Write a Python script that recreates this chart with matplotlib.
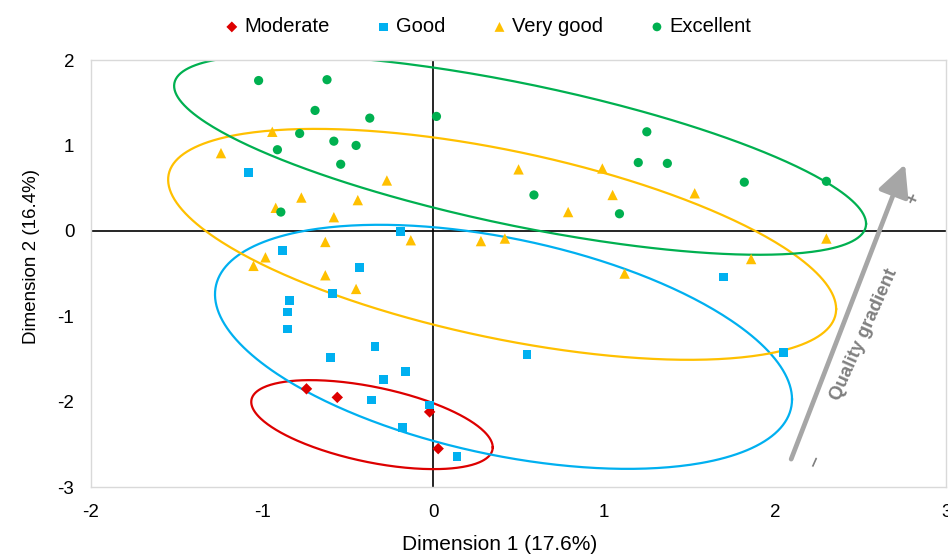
import numpy as np
import matplotlib
matplotlib.use('Agg')
import matplotlib.pyplot as plt

plt.rcParams['font.family'] = ['Liberation Sans', 'DejaVu Sans']
plt.rcParams['axes.unicode_minus'] = False

# group scores on the first two dimensions
groups = ['Moderate', 'Good', 'Very good', 'Excellent']
colors = ['#DD0000', '#00B0F0', '#FFC000', '#00B050']
markers = ['D', 's', '^', 'o']
msizes = [34, 40, 56, 44]

moderate_x = [-0.74, -0.56, -0.02, 0.03]
moderate_y = [-1.85, -1.95, -2.12, -2.55]

good_x = [-1.08, -0.19, -0.88, -0.43, -0.59, -0.84, -0.85, -0.85, -0.34, -0.60,
          -0.16, -0.29, -0.36, -0.02, -0.18, 0.14, 1.70, 2.05, 0.55]
good_y = [0.68, -0.01, -0.23, -0.43, -0.73, -0.82, -0.95, -1.15, -1.35, -1.48,
          -1.65, -1.74, -1.98, -2.04, -2.30, -2.64, -0.54, -1.42, -1.45]

vgood_x = [-1.24, -0.94, -0.27, -0.77, -0.44, -0.92, -0.58, -0.63, -0.13, 0.50,
           0.99, 1.05, 0.79, 1.53, 0.28, 0.42, 2.30, 1.86, 1.12, -0.98,
           -1.05, -0.63, -0.45]
vgood_y = [0.91, 1.16, 0.59, 0.39, 0.36, 0.27, 0.16, -0.13, -0.11, 0.72,
           0.73, 0.42, 0.22, 0.44, -0.12, -0.09, -0.09, -0.33, -0.50, -0.31,
           -0.41, -0.52, -0.68]

exc_x = [-1.02, -0.62, -0.69, -0.37, 0.02, -0.78, -0.58, -0.45, -0.91, -0.54,
         -0.89, 1.25, 1.20, 1.37, 1.82, 2.30, 0.59, 1.09]
exc_y = [1.76, 1.77, 1.41, 1.32, 1.34, 1.14, 1.05, 1.00, 0.95, 0.78,
         0.22, 1.16, 0.80, 0.79, 0.57, 0.58, 0.42, 0.20]

xs = [moderate_x, good_x, vgood_x, exc_x]
ys = [moderate_y, good_y, vgood_y, exc_y]

# ellipses: centre x, centre y, half range x, half range y, correlation
ell_cx = [-0.357, 0.412, 0.404, 0.509]
ell_cy = [-2.269, -1.358, -0.158, 0.890]
ell_sx = [0.706, 1.687, 1.953, 2.023]
ell_sy = [0.521, 1.429, 1.352, 1.17]
ell_rho = [-0.51, -0.43, -0.56, -0.69]

fig = plt.figure(figsize=(9.48, 5.56), dpi=100)
ax = fig.add_axes([0.096, 0.124, 0.902, 0.768])

t = np.linspace(0, 2 * np.pi, 400)
for i in range(4):
    ex = ell_cx[i] + ell_sx[i] * np.cos(t)
    ey = ell_cy[i] + ell_sy[i] * (ell_rho[i] * np.cos(t)
                                  + np.sqrt(1 - ell_rho[i] ** 2) * np.sin(t))
    ax.plot(ex, ey, color=colors[i], lw=1.6, zorder=2)

ax.axhline(0, color='black', lw=1.2, zorder=1)
ax.axvline(0, color='black', lw=1.2, zorder=1)

handles = []
for i in range(4):
    h = ax.scatter(xs[i], ys[i], marker=markers[i], s=msizes[i],
                   color=colors[i], edgecolors='none', zorder=3,
                   label=groups[i])
    handles.append(h)

# quality gradient arrow
ax.annotate('', xy=(2.76, 0.78), xytext=(2.094, -2.673),
            arrowprops=dict(arrowstyle='-|>,head_length=0.8,head_width=0.4',
                            color='#A6A6A6', lw=3.4, mutation_scale=24,
                            shrinkA=0, shrinkB=0))
ax.text(2.52, -1.21, 'Quality gradient', rotation=66, color='#808080',
        fontsize=13.5, fontweight='bold', ha='center', va='center')
ax.text(2.81, 0.38, '+', rotation=66, color='#808080', fontsize=13,
        fontweight='bold', ha='center', va='center')
ax.text(2.234, -2.71, '\u2013', rotation=66, color='#808080', fontsize=14,
        fontweight='bold', ha='center', va='center')

ax.set_xlim(-2, 3)
ax.set_ylim(-3, 2)
ax.set_xticks([-2, -1, 0, 1, 2, 3])
ax.set_yticks([-3, -2, -1, 0, 1, 2])
ax.tick_params(length=0, labelsize=13.5, pad=12)
for s in ax.spines.values():
    s.set_color('#D9D9D9')
    s.set_linewidth(1.0)

ax.set_xlabel('Dimension 1 (17.6%)', fontsize=15)
ax.set_ylabel('Dimension 2 (16.4%)', fontsize=13.5)
ax.xaxis.set_label_coords(0.478, -0.112)
ax.yaxis.set_label_coords(-0.060, 0.539)

fig.legend(handles=handles, loc='center', bbox_to_anchor=(0.513, 0.952),
           ncol=4, frameon=False, fontsize=14.5, handletextpad=0.1,
           columnspacing=2.2, handlelength=1.0, markerscale=0.95)

plt.savefig('out.png', dpi=100)
